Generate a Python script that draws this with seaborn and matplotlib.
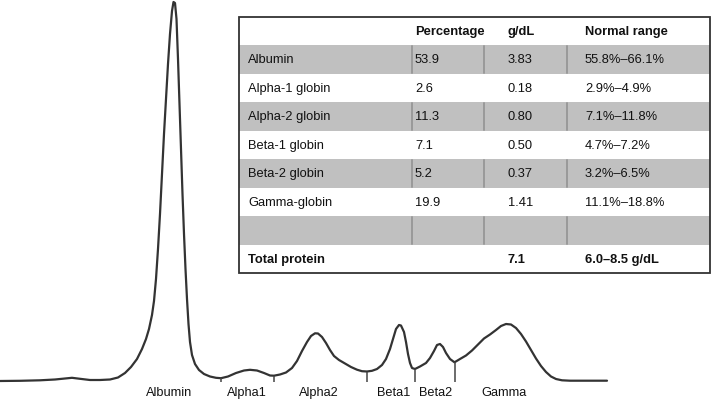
import matplotlib
matplotlib.use("Agg")
import matplotlib.pyplot as plt
import numpy as np
import pandas as pd
import seaborn as sns

# densitometry trace (mobility, absorbance)
mobility = [0, 20, 40, 55, 65, 72, 80, 90, 100, 110, 118, 125, 131, 137, 142, 146, 149,
            152, 154, 156, 158, 160, 162, 164, 166, 168, 170, 172, 173.5, 175, 176.5, 178,
            179.5, 181, 182.5, 184, 185.5, 187, 188.5, 190, 192, 195, 199, 204, 210, 216,
            221, 228, 236, 244, 250, 257, 264, 270, 274, 280, 286, 292, 297, 302, 307, 311,
            315, 318, 322, 326, 330, 334, 339, 345, 351, 357, 362, 367, 372, 377, 382, 386,
            390, 393, 396, 399, 401, 404, 406, 408, 410, 412, 415, 420, 426, 430, 434, 437,
            440, 443, 446, 450, 454.5, 460, 466, 472, 478, 484, 490, 496, 501, 506, 511, 516,
            521, 526, 531, 536, 541, 546, 551, 556, 562, 570, 590, 607]
absorbance = [0, 0.2, 0.7, 1.5, 2.5, 3.2, 2.2, 1, 1, 1.5, 3.5, 8, 14, 22, 32, 42, 52,
              66, 80, 102, 132, 167, 207, 247, 282, 317, 347, 370, 379, 378, 362, 322,
              277, 232, 187, 147, 112, 82, 57, 39, 26, 17, 11, 7, 4.5, 3.2,
              2.8, 4.5, 8, 10.5, 11.2, 10.5, 8, 5.5, 5.3, 6.5, 8.5, 13, 20, 30, 39, 45,
              47.7, 47.5, 44, 38, 31, 25, 21, 17.5, 14, 11.3, 9.8, 9.5, 10.2, 12, 16, 22,
              32, 42, 52, 56, 55.5, 49, 39, 27, 18, 13, 12, 14.5, 18, 23, 30, 36,
              37, 34, 28, 22, 18.7, 22, 25.5, 30.5, 36.5, 42.5, 46.5, 51, 55, 57, 56.5, 53,
              47, 39.5, 31, 22.5, 15, 9, 4.5, 2, 0.7, 0.3, 0.3, 0.3]

boundaries = [221, 274, 367, 415, 454.5]
fractions = ["Albumin", "Alpha1", "Alpha2", "Beta1", "Beta2", "Gamma"]
fraction_pos = [169, 247, 318.5, 393.5, 436, 504]

# table
row_names = ["Albumin", "Alpha-1 globin", "Alpha-2 globin", "Beta-1 globin",
             "Beta-2 globin", "Gamma-globin", "", "Total protein"]
percentage = ["53.9", "2.6", "11.3", "7.1", "5.2", "19.9", "", ""]
g_dl = ["3.83", "0.18", "0.80", "0.50", "0.37", "1.41", "", "7.1"]
normal_range = ["55.8%\u201366.1%", "2.9%\u20134.9%", "7.1%\u201311.8%", "4.7%\u20137.2%",
                "3.2%\u20136.5%", "11.1%\u201318.8%", "", "6.0\u20138.5 g/dL"]
headers = ["", "Percentage", "g/dL", "Normal range"]

sns.set_theme(style="white")
plt.rcParams["font.family"] = ["Liberation Sans", "DejaVu Sans"]

fig = plt.figure(figsize=(7.11, 4.02), dpi=100)
ax = fig.add_axes([0, 0, 1, 1])
df = pd.DataFrame({"mobility": mobility, "absorbance": absorbance})
sns.lineplot(data=df, x="mobility", y="absorbance", ax=ax, color="#333333",
             linewidth=1.6, sort=False, estimator=None)
tops = np.interp(boundaries, mobility, absorbance)
ax.vlines(boundaries, -0.8, tops, color="#444444", linewidth=1.1)
for name, xpos in zip(fractions, fraction_pos):
    ax.text(xpos, -11, name, ha="center", va="center", fontsize=9.2, color="#111111")
ax.set_xlim(0, 711)
ax.set_ylim(-20, 382)
ax.axis("off")

# table panel
left, right, top, bottom = 239, 710, 17.7, 274
tax = fig.add_axes([left / 711, (402 - bottom) / 402, (right - left) / 711, (bottom - top) / 402])
tax.set_xlim(left, right)
tax.set_ylim(bottom, top)
tax.axis("off")
nrows = len(row_names) + 1
rh = (bottom - top) / nrows
col_x = [248, 415, 508, 585]
sep_x = [411.7, 484, 566.7]

for j, h in enumerate(headers):
    tax.text(col_x[j], top + rh / 2, h, ha="left", va="center", fontsize=9.3,
             fontweight="bold", color="#111111")

for i, cells in enumerate(zip(row_names, percentage, g_dl, normal_range)):
    y0 = top + rh * (i + 1)
    if i % 2 == 0:
        tax.add_patch(plt.Rectangle((left, y0), right - left, rh, color="#c0c0c0", lw=0))
        for sx in sep_x:
            tax.plot([sx, sx], [y0 + 1, y0 + rh - 1], color="#999999", lw=1.4)
    bold = cells[0] == "Total protein"
    for j, c in enumerate(cells):
        tax.text(col_x[j], y0 + rh / 2, c, ha="left", va="center", fontsize=9.3,
                 fontweight="bold" if bold else "normal", color="#111111")

tax.add_patch(plt.Rectangle((left, top), right - left, bottom - top, fill=False,
                            edgecolor="#333333", lw=1.3, clip_on=False))

fig.savefig("out.png", dpi=100)
